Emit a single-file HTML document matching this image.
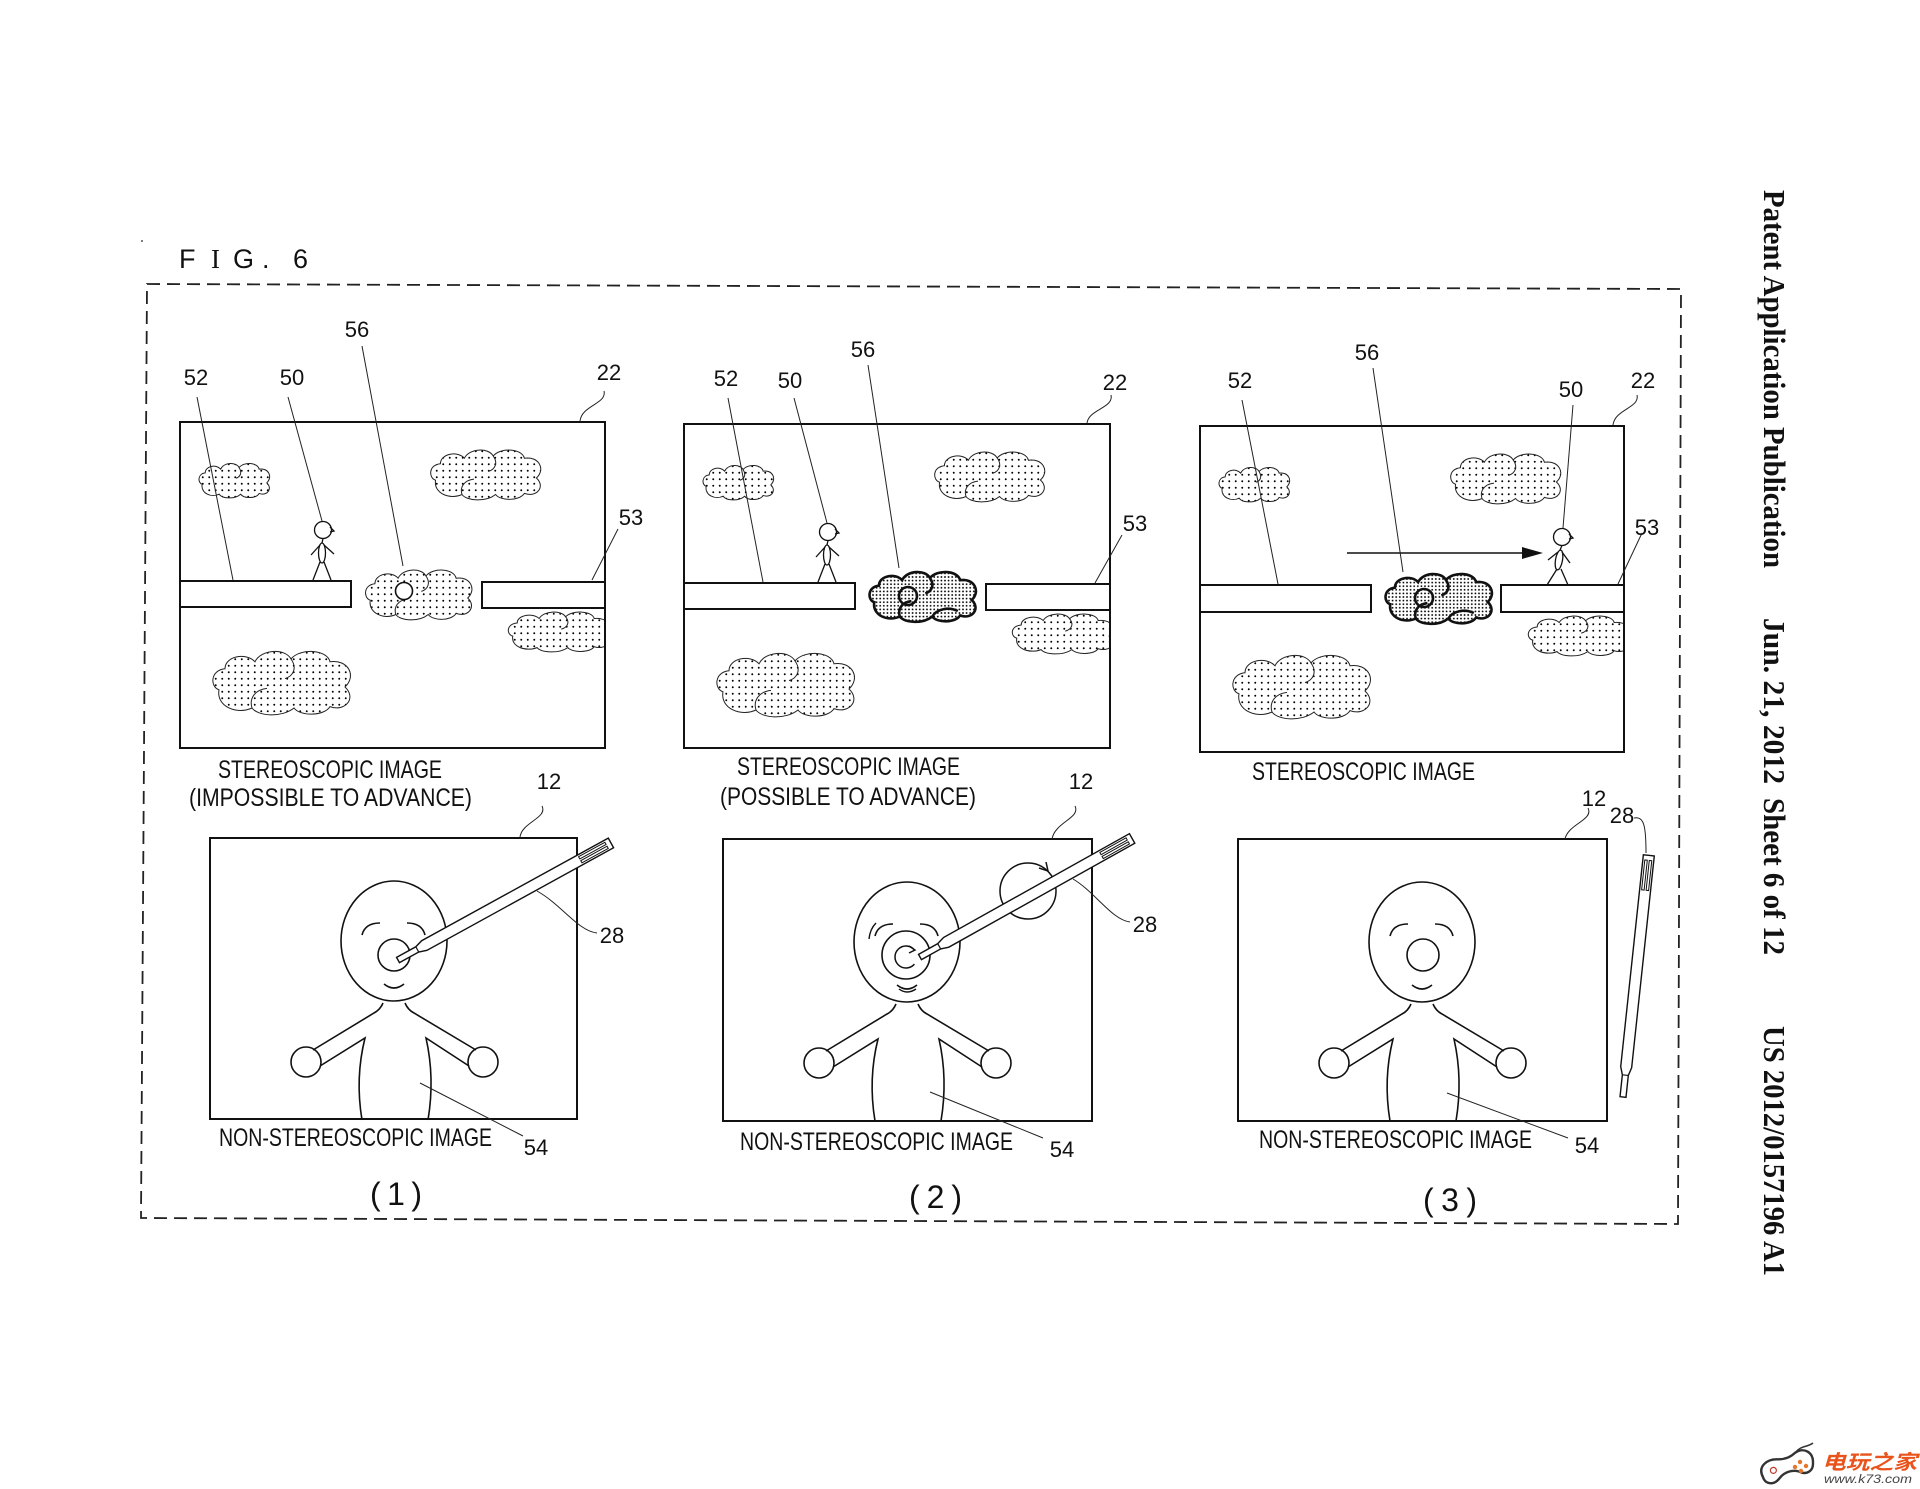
<!DOCTYPE html>
<html>
<head>
<meta charset="utf-8">
<style>
html,body{margin:0;padding:0;background:#fff}
svg{display:block}
.n{font-family:"Liberation Sans",sans-serif;font-size:22px;fill:#111;text-anchor:middle}
.c{font-family:"Liberation Sans",sans-serif;font-size:25px;fill:#111}
.p{font-family:"Liberation Sans",sans-serif;font-size:32px;fill:#111}
.l{fill:none;stroke:#222;stroke-width:1}
.co{fill:none;stroke:#222;stroke-width:1;vector-effect:non-scaling-stroke}
.cd{fill:none;stroke:#111;stroke-width:2.6;vector-effect:non-scaling-stroke}
.fr{fill:none;stroke:#111;stroke-width:2}
.pl{fill:#fff;stroke:#111;stroke-width:2}
.hv{font-family:"Liberation Serif",serif;font-weight:bold;font-size:31px;fill:#111}
</style>
</head>
<body>
<svg xmlns="http://www.w3.org/2000/svg" xmlns:xlink="http://www.w3.org/1999/xlink" width="1920" height="1489" viewBox="0 0 1920 1489">
<defs>
<pattern id="dl" patternUnits="userSpaceOnUse" width="6.5" height="6.5"><circle cx="3.25" cy="3.25" r="0.95" fill="#000"/></pattern>
<pattern id="dd" patternUnits="userSpaceOnUse" width="3.6" height="3.6"><circle cx="1.8" cy="1.8" r="0.9" fill="#000"/></pattern>
<clipPath id="pc"><rect x="0" y="0" width="425" height="326"/></clipPath>
<clipPath id="kTL"><path transform="translate(16,38) scale(0.77,0.76)" d="M8,32 C2,30 2,18 12,17 C12,8 26,5 32,12 C36,3 52,2 56,10 C62,2 80,3 82,12 C94,10 100,22 92,30 C100,38 92,48 82,44 C78,51 62,51 58,45 C50,52 34,51 30,45 C20,50 6,44 8,32 Z"/></clipPath>
<clipPath id="kTR"><path transform="translate(246,23) scale(1.2,1.1)" d="M8,32 C2,30 2,18 12,17 C12,8 26,5 32,12 C36,3 52,2 56,10 C62,2 80,3 82,12 C94,10 100,22 92,30 C100,38 92,48 82,44 C78,51 62,51 58,45 C50,52 34,51 30,45 C20,50 6,44 8,32 Z"/></clipPath>
<clipPath id="kBL"><path transform="translate(27,223) scale(1.5,1.4)" d="M8,32 C2,30 2,18 12,17 C12,8 26,5 32,12 C36,3 52,2 56,10 C62,2 80,3 82,12 C94,10 100,22 92,30 C100,38 92,48 82,44 C78,51 62,51 58,45 C50,52 34,51 30,45 C20,50 6,44 8,32 Z"/></clipPath>
<clipPath id="kBR"><path transform="translate(324,186) scale(1.1,0.88)" d="M8,32 C2,30 2,18 12,17 C12,8 26,5 32,12 C36,3 52,2 56,10 C62,2 80,3 82,12 C94,10 100,22 92,30 C100,38 92,48 82,44 C78,51 62,51 58,45 C50,52 34,51 30,45 C20,50 6,44 8,32 Z"/></clipPath>
<clipPath id="kMD"><path transform="translate(181,143) scale(1.16,1.1)" d="M8,32 C2,30 2,18 12,17 C12,8 26,5 32,12 C36,3 52,2 56,10 C62,2 80,3 82,12 C94,10 100,22 92,30 C100,38 92,48 82,44 C78,51 62,51 58,45 C50,52 34,51 30,45 C20,50 6,44 8,32 Z"/></clipPath>

<g id="clouds">
 <rect x="-5" y="-5" width="440" height="335" fill="url(#dl)" clip-path="url(#kTL)"/>
 <rect x="-5" y="-5" width="440" height="335" fill="url(#dl)" clip-path="url(#kTR)"/>
 <rect x="-5" y="-5" width="440" height="335" fill="url(#dl)" clip-path="url(#kBL)"/>
 <g clip-path="url(#pc)">
  <rect x="-5" y="-5" width="440" height="335" fill="url(#dl)" clip-path="url(#kBR)"/>
  <path class="co" transform="translate(324,186) scale(1.1,0.88)" d="M8,32 C2,30 2,18 12,17 C12,8 26,5 32,12 C36,3 52,2 56,10 C62,2 80,3 82,12 C94,10 100,22 92,30 C100,38 92,48 82,44 C78,51 62,51 58,45 C50,52 34,51 30,45 C20,50 6,44 8,32 Z M56,10 C60,16 58,22 52,24"/>
 </g>
 <path class="co" transform="translate(16,38) scale(0.77,0.76)" d="M8,32 C2,30 2,18 12,17 C12,8 26,5 32,12 C36,3 52,2 56,10 C62,2 80,3 82,12 C94,10 100,22 92,30 C100,38 92,48 82,44 C78,51 62,51 58,45 C50,52 34,51 30,45 C20,50 6,44 8,32 Z M56,10 C60,16 58,22 52,24"/>
 <path class="co" transform="translate(246,23) scale(1.2,1.1)" d="M8,32 C2,30 2,18 12,17 C12,8 26,5 32,12 C36,3 52,2 56,10 C62,2 80,3 82,12 C94,10 100,22 92,30 C100,38 92,48 82,44 C78,51 62,51 58,45 C50,52 34,51 30,45 C20,50 6,44 8,32 Z M56,10 C60,16 58,22 52,24 M30,45 C28,38 32,32 40,31"/>
 <path class="co" transform="translate(27,223) scale(1.5,1.4)" d="M8,32 C2,30 2,18 12,17 C12,8 26,5 32,12 C36,3 52,2 56,10 C62,2 80,3 82,12 C94,10 100,22 92,30 C100,38 92,48 82,44 C78,51 62,51 58,45 C50,52 34,51 30,45 C20,50 6,44 8,32 Z M56,10 C60,16 58,22 52,24 M30,45 C28,38 32,32 40,31"/>
</g>

<g id="darkmid">
 <rect x="-5" y="-5" width="440" height="335" fill="url(#dd)" clip-path="url(#kMD)"/>
 <path class="cd" transform="translate(181,143) scale(1.16,1.1)" d="M8,32 C2,30 2,18 12,17 C12,8 26,5 32,12 C36,3 52,2 56,10 C62,2 80,3 82,12 C94,10 100,22 92,30 C100,38 92,48 82,44 C78,51 62,51 58,45 C50,52 34,51 30,45 C20,50 6,44 8,32 Z M56,10 C60,16 58,22 52,24 M30,45 C28,38 32,32 40,31 M58,45 C62,38 72,36 80,40"/>
 <circle cx="224" cy="172" r="9" fill="none" stroke="#111" stroke-width="2.6"/>
</g>

<g id="fig" fill="none" stroke="#111" stroke-width="1.3">
 <circle r="8.5" fill="#fff"/>
 <path d="M7,-3 L11,1 L7,2"/>
 <path d="M0,8.5 L-1,13"/>
 <ellipse cx="-1" cy="23" rx="3.5" ry="10"/>
 <path d="M-3,15 L-12,25 M1,15 L11,24"/>
 <path d="M-3,32 L-10,50 M1,32 L8,50"/>
</g>

<g id="kid" fill="none" stroke="#111" stroke-width="1.6">
 <ellipse cx="184" cy="103" rx="53" ry="60" fill="#fff"/>
 <path d="M152,97 Q155,85 170,85"/>
 <path d="M197,85 Q212,85 215,97"/>
 <path d="M174,146 Q184,154 194,146"/>
 <path d="M173,165 Q170,172 164,175 L103,212"/>
 <circle cx="96" cy="224" r="15"/>
 <path d="M110,228 L155,200 Q145,240 152,282"/>
 <path d="M195,165 Q198,172 204,175 L266,212"/>
 <circle cx="273" cy="224" r="15"/>
 <path d="M259,228 L216,200 Q225,240 218,282"/>
</g>

<g id="sty">
 <path d="M0,-3 L22,-3 L30,-5.5 L243,-5.5 L243,5.5 L30,5.5 L22,3 L0,3 Z" fill="#fff" stroke="#111" stroke-width="1.4"/>
 <line x1="22" y1="-3" x2="22" y2="3" stroke="#111" stroke-width="1.2"/>
 <path d="M208,-3.5 L238,-3.5 L238,-1 L208,-1 Z M208,1 L238,1 L238,3.5 L208,3.5 Z" fill="none" stroke="#111" stroke-width="1"/>
</g>
</defs>

<rect width="1920" height="1489" fill="#fff"/>

<!-- FIG. 6 -->
<text y="268" style="font-family:'Liberation Sans',sans-serif;font-size:27px;fill:#111"><tspan x="179">F</tspan><tspan x="211" style="font-family:'Liberation Serif',serif">I</tspan><tspan x="233">G</tspan><tspan x="262">.</tspan><tspan x="293">6</tspan></text>
<circle cx="142" cy="241" r="1" fill="#555"/>

<!-- dashed border -->
<path d="M147,284 L1681,289 L1678,1224 L141,1218 Z" fill="none" stroke="#222" stroke-width="1.8" stroke-dasharray="13 7"/>

<!-- ===== TOP PANEL 1 ===== -->
<g transform="translate(180,422)">
 <use xlink:href="#clouds" href="#clouds"/>
 <rect x="-5" y="-5" width="440" height="335" fill="url(#dl)" clip-path="url(#kMD)"/>
 <path class="co" transform="translate(181,143) scale(1.16,1.1)" d="M8,32 C2,30 2,18 12,17 C12,8 26,5 32,12 C36,3 52,2 56,10 C62,2 80,3 82,12 C94,10 100,22 92,30 C100,38 92,48 82,44 C78,51 62,51 58,45 C50,52 34,51 30,45 C20,50 6,44 8,32 Z M56,10 C60,16 58,22 52,24 M30,45 C28,38 32,32 40,31"/>
 <circle cx="224" cy="169" r="8.5" fill="#fff" stroke="#111" stroke-width="1.6"/>
</g>
<rect class="fr" x="180" y="422" width="425" height="326"/>
<use xlink:href="#fig" href="#fig" transform="translate(323,530)"/>
<rect class="pl" x="180" y="581" width="171" height="26"/>
<rect class="pl" x="482" y="582" width="123" height="26"/>
<path class="l" d="M197,397 L233,580 M288,397 L322,521 M362,346 L403,566 M604,391 C607,404 582,405 580,421 M618,529 L592,580"/>
<text class="n" x="196" y="385">52</text>
<text class="n" x="292" y="385">50</text>
<text class="n" x="357" y="337">56</text>
<text class="n" x="609" y="380">22</text>
<text class="n" x="631" y="525">53</text>
<text class="c" x="218" y="778" textLength="224" lengthAdjust="spacingAndGlyphs">STEREOSCOPIC IMAGE</text>
<text class="c" x="189" y="806" textLength="283" lengthAdjust="spacingAndGlyphs">(IMPOSSIBLE TO ADVANCE)</text>

<!-- ===== TOP PANEL 2 ===== -->
<g transform="translate(684,424)">
 <use xlink:href="#clouds" href="#clouds"/>
 <use xlink:href="#darkmid" href="#darkmid"/>
</g>
<rect class="fr" x="684" y="424" width="426" height="324"/>
<use xlink:href="#fig" href="#fig" transform="translate(828,532)"/>
<rect class="pl" x="684" y="583" width="171" height="26"/>
<rect class="pl" x="986" y="584" width="124" height="26"/>
<path class="l" d="M728,398 L763,582 M794,398 L827,523 M868,365 L899,568 M1111,395 C1114,408 1089,409 1087,423 M1122,535 L1095,583"/>
<text class="n" x="726" y="386">52</text>
<text class="n" x="790" y="388">50</text>
<text class="n" x="863" y="357">56</text>
<text class="n" x="1115" y="390">22</text>
<text class="n" x="1135" y="531">53</text>
<text class="c" x="737" y="775" textLength="223" lengthAdjust="spacingAndGlyphs">STEREOSCOPIC IMAGE</text>
<text class="c" x="720" y="805" textLength="256" lengthAdjust="spacingAndGlyphs">(POSSIBLE TO ADVANCE)</text>

<!-- ===== TOP PANEL 3 ===== -->
<g transform="translate(1200,426)">
 <use xlink:href="#clouds" href="#clouds"/>
 <use xlink:href="#darkmid" href="#darkmid"/>
</g>
<rect class="fr" x="1200" y="426" width="424" height="326"/>
<path d="M1347,553 L1525,553" stroke="#111" stroke-width="1.6" fill="none"/>
<path d="M1522,547 L1543,553 L1522,559 Z" fill="#111"/>
<g transform="translate(1562,537)" fill="none" stroke="#111" stroke-width="1.3">
 <circle r="8.5" fill="#fff"/>
 <path d="M7,-3 L11,1 L7,2"/>
 <path d="M0,8.5 L-2,13"/>
 <ellipse cx="-3" cy="23" rx="3.5" ry="10" transform="rotate(10 -3 23)"/>
 <path d="M-4,15 L-14,23 M0,15 L8,26"/>
 <path d="M-5,32 L-15,48 M-1,32 L6,48"/>
</g>
<rect class="pl" x="1200" y="585" width="171" height="27"/>
<rect class="pl" x="1501" y="585" width="123" height="27"/>
<path class="l" d="M1242,400 L1278,584 M1373,368 L1403,572 M1573,405 L1563,528 M1637,395 C1640,408 1615,409 1613,425 M1642,533 L1618,584"/>
<text class="n" x="1240" y="388">52</text>
<text class="n" x="1367" y="360">56</text>
<text class="n" x="1571" y="397">50</text>
<text class="n" x="1643" y="388">22</text>
<text class="n" x="1647" y="535">53</text>
<text class="c" x="1252" y="780" textLength="223" lengthAdjust="spacingAndGlyphs">STEREOSCOPIC IMAGE</text>

<!-- ===== BOTTOM PANEL 1 ===== -->
<g transform="translate(210,838)">
 <rect class="fr" x="0" y="0" width="367" height="281"/>
 <use xlink:href="#kid" href="#kid"/>
 <circle cx="184" cy="117" r="16" fill="none" stroke="#111" stroke-width="1.6"/>
</g>
<use xlink:href="#sty" href="#sty" transform="translate(398,960) rotate(-28.8)"/>
<path class="l" d="M542,806 C548,818 522,822 520,837 M597,933 C578,931 562,905 537,891 M523,1136 L420,1083"/>
<text class="n" x="549" y="789">12</text>
<text class="n" x="612" y="943">28</text>
<text class="n" x="536" y="1155">54</text>
<text class="c" x="219" y="1146" textLength="273" lengthAdjust="spacingAndGlyphs">NON-STEREOSCOPIC IMAGE</text>
<text class="p" x="370" y="1205" textLength="52" lengthAdjust="spacing">(1)</text>

<!-- ===== BOTTOM PANEL 2 ===== -->
<g transform="translate(723,839)">
 <rect class="fr" x="0" y="0" width="369" height="282"/>
 <use xlink:href="#kid" href="#kid"/>
 <circle cx="183" cy="116" r="24" fill="none" stroke="#111" stroke-width="1.6"/>
 <path d="M176,150 Q184,156 193,150" fill="none" stroke="#111" stroke-width="1.4"/>
 <path d="M146,100 Q147,90 153,84" fill="none" stroke="#111" stroke-width="1.4"/>
</g>
<path d="M914.4,949.9 A11,11 0 1 0 914.4,964.1" fill="none" stroke="#111" stroke-width="1.5"/>
<path d="M909,946 L915,950 L909,953" fill="none" stroke="#111" stroke-width="1.4"/>
<circle cx="1028" cy="891" r="28" fill="none" stroke="#111" stroke-width="1.5"/>
<path d="M1039,868 L1048,871 L1046,862" fill="none" stroke="#111" stroke-width="1.5"/>
<use xlink:href="#sty" href="#sty" transform="translate(920,957) rotate(-29.2)"/>
<path class="l" d="M1075,806 C1081,818 1055,822 1052,839 M1130,922 C1112,920 1095,892 1073,879 M1043,1138 L930,1092"/>
<text class="n" x="1081" y="789">12</text>
<text class="n" x="1145" y="932">28</text>
<text class="n" x="1062" y="1157">54</text>
<text class="c" x="740" y="1150" textLength="273" lengthAdjust="spacingAndGlyphs">NON-STEREOSCOPIC IMAGE</text>
<text class="p" x="909" y="1208" textLength="53" lengthAdjust="spacing">(2)</text>

<!-- ===== BOTTOM PANEL 3 ===== -->
<g transform="translate(1238,839)">
 <rect class="fr" x="0" y="0" width="369" height="282"/>
 <use xlink:href="#kid" href="#kid"/>
 <circle cx="185" cy="116" r="16" fill="none" stroke="#111" stroke-width="1.6"/>
</g>
<use xlink:href="#sty" href="#sty" transform="translate(1623,1097) rotate(-83.9)"/>
<path class="l" d="M1588,808 C1594,820 1568,824 1565,839 M1634,818 C1644,816 1646,826 1646,853 M1568,1138 L1447,1093"/>
<text class="n" x="1594" y="806">12</text>
<text class="n" x="1622" y="823">28</text>
<text class="n" x="1587" y="1153">54</text>
<text class="c" x="1259" y="1148" textLength="273" lengthAdjust="spacingAndGlyphs">NON-STEREOSCOPIC IMAGE</text>
<text class="p" x="1423" y="1211" textLength="54" lengthAdjust="spacing">(3)</text>

<!-- vertical header -->
<text class="hv" transform="translate(1764,190) rotate(90)" textLength="378" lengthAdjust="spacingAndGlyphs">Patent Application Publication</text>
<text class="hv" transform="translate(1764,618) rotate(90)" textLength="166" lengthAdjust="spacingAndGlyphs">Jun. 21, 2012</text>
<text class="hv" transform="translate(1764,798) rotate(90)" textLength="157" lengthAdjust="spacingAndGlyphs">Sheet 6 of 12</text>
<text class="hv" transform="translate(1764,1026) rotate(90)" textLength="250" lengthAdjust="spacingAndGlyphs">US 2012/0157196 A1</text>

<!-- watermark -->
<g transform="translate(1787,1467) rotate(-18)">
 <path d="M-26,2 C-28,-10 -16,-14 -6,-10 C0,-8 6,-8 12,-11 C22,-14 30,-6 26,4 C24,12 16,14 10,8 C4,4 -4,4 -10,8 C-18,14 -26,10 -26,2 Z" fill="#fff" stroke="#333" stroke-width="2.4"/>
 <circle cx="-14" cy="-1" r="3" fill="none" stroke="#c0392b" stroke-width="1.2"/>
</g>
<path d="M1796,1452 C1800,1446 1808,1447 1813,1443" fill="none" stroke="#333" stroke-width="1.5"/>
<circle cx="1795" cy="1467" r="2.2" fill="#e5762b"/>
<circle cx="1800" cy="1462" r="2.2" fill="#e5762b"/>
<circle cx="1801" cy="1471" r="2.2" fill="#e5762b"/>
<circle cx="1806" cy="1466" r="2.2" fill="#e5762b"/>
<text x="1822" y="1469" textLength="95" lengthAdjust="spacingAndGlyphs" style="font-family:'Liberation Sans','Noto Sans CJK SC',sans-serif;font-weight:bold;font-style:italic;font-size:20px;fill:#e9541c">电玩之家</text>
<text x="1824" y="1483" textLength="88" lengthAdjust="spacingAndGlyphs" style="font-family:'Liberation Sans',sans-serif;font-style:italic;font-size:12px;fill:#444">www.k73.com</text>
</svg>
</body>
</html>
